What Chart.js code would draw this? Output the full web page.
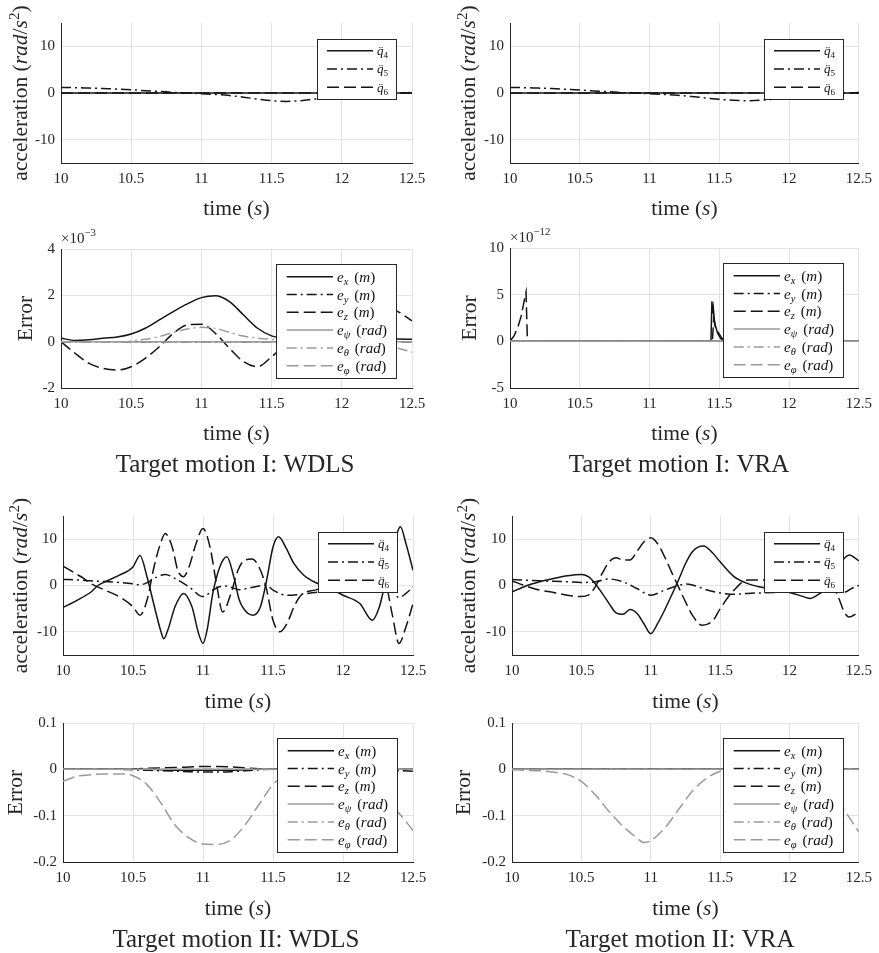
<!DOCTYPE html>
<html><head><meta charset="utf-8">
<script src="https://cdn.jsdelivr.net/npm/chart.js@4.4.1/dist/chart.umd.min.js"></script>
<style>
html,body{margin:0;padding:0;background:#fff;}
body{width:879px;height:953px;position:relative;overflow:hidden;}
canvas{position:absolute;}
</style></head><body>
<canvas id="c1" width="440" height="225" style="left:0;top:0"></canvas>
<canvas id="c2" width="439" height="225" style="left:440px;top:0"></canvas>
<canvas id="c3" width="440" height="258" style="left:0;top:225px"></canvas>
<canvas id="c4" width="439" height="258" style="left:440px;top:225px"></canvas>
<canvas id="c5" width="440" height="235" style="left:0;top:483px"></canvas>
<canvas id="c6" width="439" height="235" style="left:440px;top:483px"></canvas>
<canvas id="c7" width="440" height="248" style="left:0;top:705px"></canvas>
<canvas id="c8" width="439" height="248" style="left:440px;top:705px"></canvas>
<script>
// ---------------- data ----------------
const X_TICKS = [10, 10.5, 11, 11.5, 12, 12.5];
const ACC_TICKS = [-10, 0, 10];
const ERR_I_WDLS_TICKS = [-2, 0, 2, 4];
const ERR_I_VRA_TICKS = [-5, 0, 5, 10];
const ERR_II_TICKS = [-0.2, -0.1, 0, 0.1];

const T10 = [10.0,10.1,10.2,10.3,10.4,10.5,10.6,10.7,10.8,10.9,11.0,11.1,11.2,11.3,11.4,11.5,11.6,11.7,11.8,11.9,12.0,12.1,12.2,12.3,12.4,12.5];
const T_FLAT = [10, 12.5];
const ZERO = [0, 0];

// Target motion I: WDLS, accelerations (rad/s^2)
const q4_I_WDLS = [0, 0];
const q5_I_WDLS = [1.2,1.15,1.05,0.95,0.85,0.7,0.5,0.35,0.15,0.0,-0.15,-0.3,-0.55,-0.9,-1.3,-1.65,-1.8,-1.65,-1.3,-1.2,-1.0,-0.7,-0.4,-0.15,0.0,0.1];
const q6_I_WDLS = [0, 0];
// Target motion I: VRA, accelerations
const q4_I_VRA = [0, 0];
const q5_I_VRA = [1.2,1.15,1.05,0.95,0.8,0.65,0.45,0.3,0.1,0.0,-0.15,-0.3,-0.5,-0.75,-1.05,-1.35,-1.55,-1.65,-1.55,-1.3,-1.0,-0.7,-0.4,-0.15,0.0,0.1];
const q6_I_VRA = [0, 0];

// Target motion I: WDLS, errors (x 1e-3)
const ex_I_WDLS = [0.15,0.05,0.08,0.15,0.2,0.33,0.58,0.94,1.3,1.63,1.9,1.98,1.73,1.15,0.58,0.25,0.12,0.08,0.06,0.06,0.07,0.08,0.1,0.12,0.12,0.1];
const ey_I_WDLS = [0, 0];
const ez_I_WDLS = [0.0,-0.5,-0.94,-1.15,-1.22,-1.08,-0.72,-0.22,0.36,0.72,0.75,0.36,-0.29,-0.86,-1.08,-0.65,-0.1,0.5,1.0,1.4,1.65,1.75,1.7,1.55,1.3,0.9];
const epsi_I_WDLS = [0, 0];
const eth_I_WDLS = [0,-0.02,-0.03,-0.03,-0.02,0.02,0.1,0.22,0.4,0.55,0.62,0.57,0.4,0.24,0.15,0.1,0.07,0.05,0.02,-0.02,-0.06,-0.1,-0.15,-0.2,-0.28,-0.45];
const ephi_I_WDLS = [0, 0];

// Target motion I: VRA, errors (x 1e-12)
const t_ex_I_VRA = [10,11.44,11.447,11.452,11.457,11.465,11.475,11.49,11.51,11.53,12.5];
const ex_I_VRA = [0,0,4.3,3.0,3.6,2.2,1.5,0.8,0.3,0,0];
const t_ez_I_VRA = [10,10.03,10.06,10.08,10.1,10.11,10.115,10.12,10.125,11.44,11.45,11.46,11.47,11.49,11.52,12.5];
const ez_I_VRA = [0,0.6,1.7,2.7,4.2,5.0,5.3,2.5,0,0,0,2.4,1.6,1.0,0.3,0];

// Target motion II: WDLS, accelerations
const t_q4_II_WDLS = [10.0,10.1,10.2,10.25,10.3,10.4,10.5,10.55,10.6,10.65,10.7,10.72,10.75,10.8,10.86,10.92,10.97,11.0,11.03,11.07,11.12,11.17,11.22,11.26,11.32,11.36,11.41,11.455,11.5,11.54,11.59,11.65,11.72,11.82,11.9,12.0,12.12,12.21,12.26,12.29,12.35,12.39,12.41,12.45,12.5];
const q4_II_WDLS = [-4.75,-3.2,-1.4,0.0,0.8,2.2,4.0,6.5,1.9,-4.2,-10.0,-11.5,-9.5,-4.6,-1.7,-4.5,-10.5,-12.5,-9.5,-1.7,4.0,6.2,1.9,-3.2,-6.0,-6.4,-4.6,1.2,8.3,10.5,8.3,4.7,2.2,0.4,-0.5,-2.1,-3.9,-7.5,-4.6,-1.0,6.0,11.6,12.7,9.0,3.3];
const t_q5_II_WDLS = [10.0,10.1,10.2,10.3,10.4,10.5,10.55,10.6,10.67,10.73,10.8,10.9,11.0,11.08,11.15,11.2,11.26,11.32,11.4,11.45,11.5,11.6,11.7,11.8,11.9,12.0,12.1,12.2,12.3,12.35,12.4,12.45,12.5];
const q5_II_WDLS = [1.3,1.2,1.0,0.85,0.65,0.35,0.15,0.6,1.8,2.4,1.5,-0.3,-2.4,-0.8,-0.1,-0.4,-0.9,-0.6,-0.1,0.1,-1.0,-2.1,-1.9,-1.5,-1.2,-1.0,-0.6,-0.3,-0.1,-1.0,-2.6,-1.7,-0.3];
const t_q6_II_WDLS = [10.0,10.1,10.15,10.2,10.3,10.4,10.5,10.55,10.6,10.65,10.7,10.73,10.78,10.82,10.86,10.9,10.95,11.0,11.05,11.1,11.14,11.2,11.25,11.3,11.35,11.4,11.45,11.5,11.55,11.6,11.65,11.7,11.8,11.9,12.0,12.1,12.2,12.3,12.35,12.4,12.45,12.5];
const q6_II_WDLS = [4.2,2.4,1.5,0.4,-1.0,-2.4,-4.6,-6.4,-3.2,4.0,9.4,11.2,8.3,3.3,1.9,4.0,9.0,12.3,8.3,-0.3,-5.7,-1.7,3.3,5.5,5.7,4.0,-0.3,-7.5,-10.0,-8.2,-4.6,-2.1,-1.0,-0.5,0.0,0.3,0.5,0.4,-6.0,-12.5,-8.9,-3.9];

// Target motion II: VRA, accelerations
const t_q4_II_VRA = [10.0,10.1,10.2,10.3,10.4,10.5,10.55,10.6,10.65,10.7,10.75,10.8,10.85,10.9,10.95,11.0,11.05,11.1,11.15,11.2,11.25,11.3,11.38,11.45,11.5,11.6,11.7,11.8,11.9,12.0,12.1,12.15,12.2,12.25,12.3,12.35,12.43,12.5];
const q4_II_VRA = [-1.4,-0.1,0.8,1.5,2.1,2.4,1.9,0.4,-1.7,-3.9,-5.9,-6.2,-5.2,-6.0,-8.2,-10.4,-8.2,-5.3,-2.1,1.2,4.7,7.3,8.5,6.9,5.1,1.9,0.4,-0.4,-1.0,-1.5,-2.4,-2.8,-2.1,-1.0,1.0,4.0,6.6,5.3];
const t_q5_II_VRA = [10.0,10.2,10.4,10.5,10.6,10.7,10.8,10.9,11.0,11.1,11.2,11.25,11.3,11.4,11.5,11.6,11.7,11.8,11.9,12.0,12.1,12.2,12.3,12.4,12.45,12.5];
const q5_II_VRA = [1.3,1.0,0.8,0.65,0.8,1.4,0.8,-0.65,-2.1,-1.0,0.0,0.3,0.1,-0.9,-1.6,-1.9,-1.7,-1.6,-1.5,-1.4,-1.2,-1.15,-1.2,-1.4,-0.6,0.0];
const t_q6_II_VRA = [10.0,10.1,10.2,10.3,10.4,10.5,10.55,10.6,10.65,10.7,10.75,10.8,10.85,10.9,10.95,11.0,11.05,11.1,11.15,11.2,11.25,11.3,11.37,11.45,11.5,11.6,11.7,11.8,11.9,12.0,12.1,12.2,12.3,12.35,12.4,12.43,12.5];
const q6_II_VRA = [1.0,-0.1,-1.0,-1.5,-2.1,-2.4,-2.1,-0.3,2.6,5.1,6.0,5.5,5.5,7.3,9.4,10.3,9.0,6.2,2.9,-0.3,-3.5,-6.4,-8.6,-7.5,-5.0,-1.0,1.2,1.2,1.0,0.8,0.7,0.7,0.4,-2.4,-6.0,-6.8,-5.7];

// Target motion II: WDLS, errors
const ex_II_WDLS = [0,0,0,0,0,0,0,-0.001,-0.002,-0.002,-0.002,-0.002,-0.002,-0.001,0,0,0,0,0,0,0,0,0,0,0,0];
const ey_II_WDLS = [0,0,0,0,0,-0.001,-0.002,-0.003,-0.004,-0.005,-0.006,-0.006,-0.005,-0.003,-0.001,0,0,0,0,0,0,-0.001,-0.002,-0.003,-0.003,-0.004];
const ez_II_WDLS = [0,0,0,0,0,0.001,0.002,0.003,0.004,0.005,0.006,0.006,0.005,0.003,0.001,0,0,0,0,0,0,0,0,0,0,0];
const epsi_II_WDLS = [0, 0];
const eth_II_WDLS = [0, 0];
const ephi_II_WDLS = [-0.026,-0.015,-0.0115,-0.01,-0.01,-0.0137,-0.033,-0.073,-0.12,-0.148,-0.161,-0.162,-0.152,-0.12,-0.076,-0.033,-0.01,-0.002,0.0,-0.003,-0.01,-0.02,-0.04,-0.065,-0.095,-0.132];

// Target motion II: VRA, errors
const t_ephi_II_VRA = [10.0,10.1,10.2,10.3,10.4,10.5,10.6,10.7,10.8,10.9,10.95,11.0,11.1,11.2,11.3,11.4,11.5,11.6,11.7,11.8,11.9,12.0,12.1,12.2,12.3,12.4,12.45,12.5];
const ephi_II_VRA = [-0.001,-0.002,-0.003,-0.006,-0.0115,-0.026,-0.055,-0.091,-0.123,-0.148,-0.158,-0.154,-0.127,-0.087,-0.047,-0.02,-0.004,0.0,0.0,0.0,-0.002,-0.008,-0.018,-0.035,-0.06,-0.09,-0.113,-0.135];

// ---------------- styling ----------------
const SERIF = '"Liberation Serif", "Times New Roman", serif';
const TXT = '#262626', AX = '#262626', GRID = '#e3e3e3';
const K = '#141414', G = '#9a9a9a';
const SOLID = [], DASH = [12, 5], DASHDOT = [10, 4, 2, 4];

Chart.defaults.font.family = SERIF;
Chart.defaults.color = TXT;

function series(t, v, color, dash, straight) {
  return {
    data: t.map((x, i) => ({x: x, y: v[i]})),
    borderColor: color, borderWidth: 1.5, borderDash: dash,
    pointRadius: 0, fill: false,
    cubicInterpolationMode: straight ? 'default' : 'monotone', tension: 0
  };
}
// later series are drawn on top (as in the reference)
function stackOrder(sets) { sets.forEach((d, i) => { d.order = sets.length - i; }); return sets; }

// text runs helper
function fnt(s, size) { return (s === 'i' ? 'italic ' : '') + size + 'px ' + SERIF; }
function drawRuns(ctx, runs, size, x, y, align, rot, vOff) {
  if (vOff === undefined) vOff = 0.34 * size;
  ctx.save();
  ctx.translate(x, y);
  if (rot) ctx.rotate(-Math.PI / 2);
  ctx.textBaseline = 'alphabetic'; ctx.textAlign = 'left';
  let w = 0;
  for (const r of runs) {
    if (r.gap) { w += r.gap; continue; }
    ctx.font = fnt(r.s, size * (r.k || 1)); w += ctx.measureText(r.t).width;
  }
  let cx = align === 'center' ? -w / 2 : 0;
  for (const r of runs) {
    if (r.gap) { cx += r.gap; continue; }
    const sz = size * (r.k || 1);
    ctx.font = fnt(r.s, sz);
    const tw = ctx.measureText(r.t).width;
    ctx.fillText(r.t, cx, vOff + (r.dy || 0));
    if (r.dd) {
      ctx.font = fnt('n', sz);
      ctx.textAlign = 'center';
      ctx.fillText('\u00A8', cx + tw / 2 + sz * 0.06, vOff);
      ctx.textAlign = 'left';
    }
    cx += tw;
  }
  ctx.restore();
}

const YLAB_ACC = [{t:'acceleration ', s:'n'}, {t:'(', s:'n'}, {t:'rad', s:'i'}, {t:'/', s:'n'}, {t:'s', s:'i'}, {t:'2', s:'n', k:0.7, dy:-8}, {t:')', s:'n'}];
const YLAB_ERR = [{t:'Error', s:'n'}];
const XLAB = [{t:'time ', s:'n'}, {t:'(', s:'n'}, {t:'s', s:'i'}, {t:')', s:'n'}];
function qdd(n) { return [{t:'q', s:'i', dd:true}, {t:n, s:'n', k:0.7, dy:3}]; }
function eSub(sub, unit) { return [{t:'e', s:'i'}, {t:sub, s:'i', k:0.7, dy:3}, {gap:6}, {t:'(', s:'n'}, {t:unit, s:'i'}, {t:')', s:'n'}]; }
const ACC_LABELS = [qdd('4'), qdd('5'), qdd('6')];
const ERR_LABELS = [eSub('x','m'), eSub('y','m'), eSub('z','m'), eSub('\u03C8','rad'), eSub('\u03B8','rad'), eSub('\u03C6','rad')];
const LEG_ACC = {w:79, h:60, top:16, rows:[11.7, 30, 48.3], l0:10, l1:56, tx:60, size:13, labels:ACC_LABELS};
const LEG_ERR = {w:120, h:114, top:15, rows:[12.7, 30.5, 48.3, 66.1, 83.9, 101.7], l0:10.7, l1:57, tx:61, size:15, labels:ERR_LABELS};

function accSets(t4, v4, t5, v5, t6, v6) {
  return stackOrder([series(t4, v4, K, SOLID), series(t5, v5, K, DASHDOT), series(t6, v6, K, DASH)]);
}

const COLS = [{x:0, w:440}, {x:440, w:439}];
const ROWS = [{y:0, h:225}, {y:225, h:258}, {y:483, h:235}, {y:705, h:248}];

const PANELS = [
  {id:'c1', c:0, r:0, rect:[61,23,412,163], y:[-15,15], yt:ACC_TICKS, ylab:YLAB_ACC, ylx:20, xly:208, leg:LEG_ACC,
   ds: accSets(T_FLAT, q4_I_WDLS, T10, q5_I_WDLS, T_FLAT, q6_I_WDLS)},
  {id:'c2', c:1, r:0, rect:[510,23,861,163], y:[-15,15], yt:ACC_TICKS, ylab:YLAB_ACC, ylx:468, xly:208, leg:LEG_ACC,
   ds: accSets(T_FLAT, q4_I_VRA, T10, q5_I_VRA, T_FLAT, q6_I_VRA)},
  {id:'c3', c:0, r:1, rect:[61,249,412,388], y:[-2,4], yt:ERR_I_WDLS_TICKS, ylab:YLAB_ERR, ylx:25, xly:433, leg:LEG_ERR,
   cap:'Target motion I: WDLS', capx:235, capy:463, mult:'\u22123',
   ds: stackOrder([series(T10, ex_I_WDLS, K, SOLID), series(T_FLAT, ey_I_WDLS, K, DASHDOT), series(T10, ez_I_WDLS, K, DASH),
        series(T_FLAT, epsi_I_WDLS, G, SOLID), series(T10, eth_I_WDLS, G, DASHDOT), series(T_FLAT, ephi_I_WDLS, G, DASH)])},
  {id:'c4', c:1, r:1, rect:[510,248,861,388], y:[-5,10], yt:ERR_I_VRA_TICKS, ylab:YLAB_ERR, ylx:469, xly:433, leg:LEG_ERR,
   cap:'Target motion I: VRA', capx:679, capy:463, mult:'\u221212',
   ds: stackOrder([series(t_ex_I_VRA, ex_I_VRA, K, SOLID, true), series(T_FLAT, ZERO, K, DASHDOT, true), series(t_ez_I_VRA, ez_I_VRA, K, DASH, true),
        series(T_FLAT, ZERO, G, SOLID, true), series(T_FLAT, ZERO, G, DASHDOT, true), series(T_FLAT, ZERO, G, DASH, true)])},
  {id:'c5', c:0, r:2, rect:[63,516,413,655], y:[-15,15], yt:ACC_TICKS, ylab:YLAB_ACC, ylx:20, xly:701, leg:LEG_ACC,
   ds: accSets(t_q4_II_WDLS, q4_II_WDLS, t_q5_II_WDLS, q5_II_WDLS, t_q6_II_WDLS, q6_II_WDLS)},
  {id:'c6', c:1, r:2, rect:[512,516,861,655], y:[-15,15], yt:ACC_TICKS, ylab:YLAB_ACC, ylx:468, xly:701, leg:LEG_ACC,
   ds: accSets(t_q4_II_VRA, q4_II_VRA, t_q5_II_VRA, q5_II_VRA, t_q6_II_VRA, q6_II_VRA)},
  {id:'c7', c:0, r:3, rect:[63,723,413,862], y:[-0.2,0.1], yt:ERR_II_TICKS, ylab:YLAB_ERR, ylx:14.5, xly:908, leg:LEG_ERR,
   cap:'Target motion II: WDLS', capx:236, capy:938,
   ds: stackOrder([series(T10, ex_II_WDLS, K, SOLID), series(T10, ey_II_WDLS, K, DASHDOT), series(T10, ez_II_WDLS, K, DASH),
        series(T_FLAT, epsi_II_WDLS, G, SOLID), series(T_FLAT, eth_II_WDLS, G, DASHDOT), series(T10, ephi_II_WDLS, G, DASH)])},
  {id:'c8', c:1, r:3, rect:[512,723,861,862], y:[-0.2,0.1], yt:ERR_II_TICKS, ylab:YLAB_ERR, ylx:463, xly:908, leg:LEG_ERR,
   cap:'Target motion II: VRA', capx:680, capy:938,
   ds: stackOrder([series(T_FLAT, ZERO, K, SOLID), series(T_FLAT, ZERO, K, DASHDOT), series(T_FLAT, ZERO, K, DASH),
        series(T_FLAT, ZERO, G, SOLID), series(T_FLAT, ZERO, G, DASHDOT), series(t_ephi_II_VRA, ephi_II_VRA, G, DASH)])}
];

function drawLegend(ctx, ca, L, sets) {
  const x = Math.round(ca.right - 16 - L.w), y = Math.round(ca.top + L.top);
  ctx.save();
  ctx.fillStyle = '#fff'; ctx.fillRect(x, y, L.w, L.h);
  ctx.strokeStyle = AX; ctx.lineWidth = 1; ctx.setLineDash([]);
  ctx.strokeRect(x + 0.5, y + 0.5, L.w, L.h);
  L.rows.forEach((dy, i) => {
    const ds = sets[i], ry = y + dy;
    ctx.beginPath();
    ctx.setLineDash(ds.borderDash); ctx.strokeStyle = ds.borderColor; ctx.lineWidth = ds.borderWidth;
    ctx.moveTo(x + L.l0, ry); ctx.lineTo(x + L.l1, ry); ctx.stroke();
    ctx.setLineDash([]);
    ctx.fillStyle = '#111';
    drawRuns(ctx, L.labels[i], L.size, x + L.tx, ry, 'left', false);
  });
  ctx.restore();
}

PANELS.forEach(P => {
  const col = COLS[P.c], row = ROWS[P.r];
  const [L, T, R, B] = P.rect;
  const decor = {
    id: 'decor',
    afterDatasetsDraw(chart) { drawLegend(chart.ctx, chart.chartArea, P.leg, P.ds); },
    afterDraw(chart) {
      const ctx = chart.ctx, ca = chart.chartArea;
      ctx.save();
      ctx.fillStyle = TXT;
      drawRuns(ctx, P.ylab, 21.5, P.ylx - col.x, (ca.top + ca.bottom) / 2, 'center', true);
      drawRuns(ctx, XLAB, 21.5, (ca.left + ca.right) / 2, P.xly - row.y, 'center', false);
      if (P.cap) drawRuns(ctx, [{t:P.cap, s:'n'}], 25, P.capx - col.x, P.capy - row.y, 'center', false);
      if (P.mult) drawRuns(ctx, [{t:'\u00D710', s:'n'}, {t:P.mult, s:'n', k:0.72, dy:-7}], 15, ca.left, ca.top - 6, 'left', false, 0);
      ctx.restore();
    }
  };
  new Chart(document.getElementById(P.id), {
    type: 'line',
    data: {datasets: P.ds},
    options: {
      responsive: false, animation: false, events: [],
      layout: {padding: {top: T - row.y, right: col.x + col.w - R, left: 0, bottom: 0}},
      plugins: {legend: {display: false}, tooltip: {enabled: false}},
      scales: {
        x: {
          type: 'linear', min: 10, max: 12.5,
          afterBuildTicks: s => { s.ticks = X_TICKS.map(v => ({value: v})); },
          afterFit: s => { s.height = row.y + row.h - B; },
          grid: {color: GRID, drawTicks: false, lineWidth: 1},
          border: {color: AX, width: 1},
          ticks: {padding: 7, font: {size: 15}, color: TXT, autoSkip: false, maxRotation: 0, callback: v => String(v)}
        },
        y: {
          type: 'linear', min: P.y[0], max: P.y[1],
          afterBuildTicks: s => { s.ticks = P.yt.map(v => ({value: v})); },
          afterFit: s => { s.width = L - col.x; },
          grid: {color: GRID, drawTicks: false, lineWidth: 1},
          border: {color: AX, width: 1},
          ticks: {padding: 6, font: {size: 15}, color: TXT, autoSkip: false, callback: v => String(v)}
        }
      }
    },
    plugins: [decor]
  });
});
</script>
</body></html>
